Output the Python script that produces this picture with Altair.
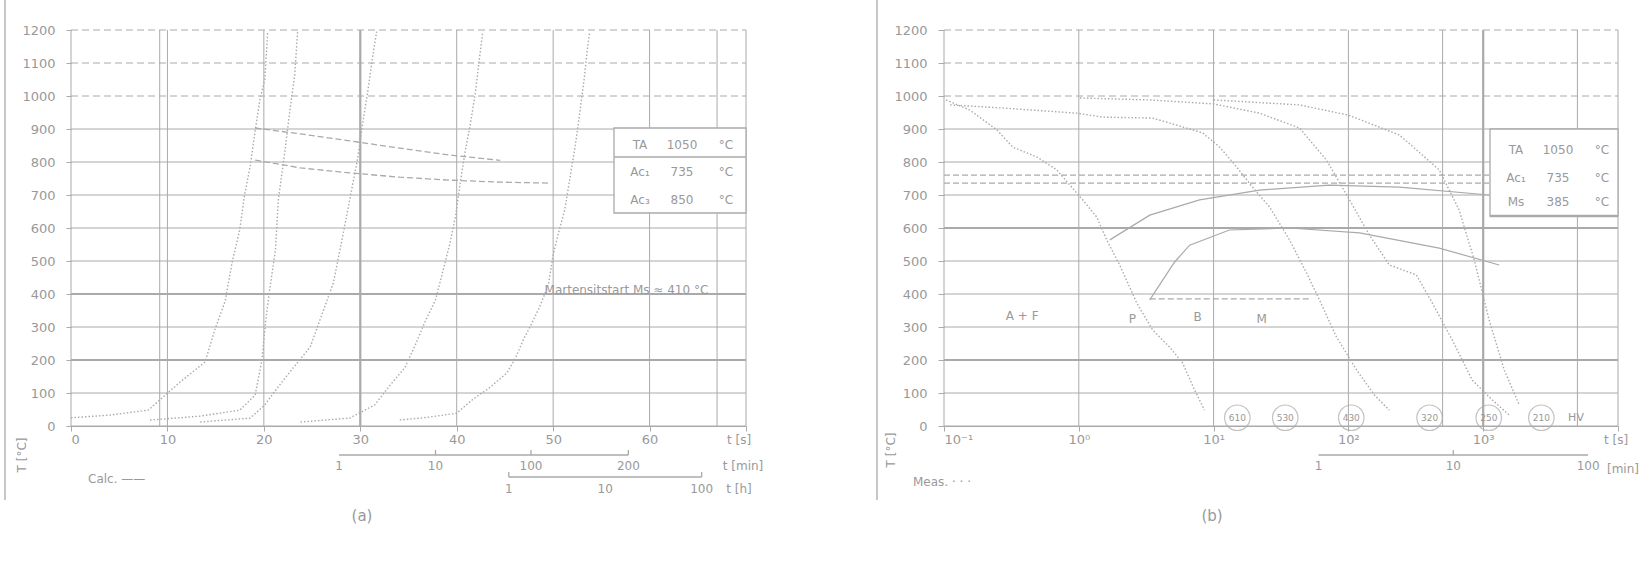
import altair as alt
import pandas as pd

GRAY = "#aaaaaa"
TXT = "#999999"
FONT = "DejaVu Sans"
W_A = 675          # plot width of panel (a)
B0, B1 = 873, 1547 # pixel range of panel (b) inside the shared plot area
H = 396

# ---------------- shared temperature axis ----------------
temps = list(range(0, 1300, 100))
temp_dashed = [1000, 1100, 1200]

# ---------------- panel (a): heating, linear time ----------------
a_ticks = [0, 10, 20, 30, 40, 50, 60, 70]
a_tick_labels = ["0", "10", "20", "30", "40", "50", "60", ""]
a_extra_v = [9.2, 67]
a_thick_v = [30]
a_thick_h = [200, 400]

a_c1_t = [0, 4, 8, 9.8, 11.3, 13.9, 14.9, 16, 16.7, 17.5, 18, 18.6, 19.1, 19.6, 20.1, 20.4]
a_c1_T = [25, 33, 48, 94, 133, 194, 290, 380, 495, 595, 700, 790, 895, 990, 1050, 1195]
a_c2_t = [8.2, 13.4, 17.5, 19.1, 19.8, 20.2, 20.6, 21.2, 21.5, 22.2, 22.7, 23.2, 23.5]
a_c2_T = [18, 30, 48, 94, 200, 321, 412, 533, 685, 836, 957, 1064, 1195]
a_c3_t = [13.4, 18.6, 20.1, 21.0, 22.7, 24.8, 26.0, 27.2, 28.1, 28.9, 29.7, 30.3, 30.8, 31.3, 31.7]
a_c3_T = [12, 24, 64, 100, 164, 239, 336, 433, 564, 685, 806, 927, 1018, 1124, 1195]
a_c4_t = [23.8, 28.9, 31.5, 33.1, 34.6, 35.7, 36.7, 37.8, 38.6, 39.3, 39.9, 40.4, 40.9, 41.4, 41.9, 42.4, 42.7]
a_c4_T = [12, 24, 64, 124, 176, 245, 315, 382, 473, 554, 639, 745, 836, 912, 1003, 1124, 1195]
a_c5_t = [34.1, 37.2, 40.0, 41.6, 43.5, 45.2, 46.1, 46.9, 47.8, 48.6, 49.5, 50.0, 50.5, 51.2, 51.8, 52.3, 52.8, 53.2, 53.6, 53.8]
a_c5_T = [18, 27, 39, 79, 118, 161, 206, 261, 312, 361, 427, 518, 579, 654, 761, 851, 957, 1048, 1154, 1195]

a_ac3_t = [19.1, 23.8, 28.9, 34.1, 39.3, 44.5]
a_ac3_T = [903, 885, 864, 842, 821, 805]
a_ac1_t = [19.1, 23.8, 28.9, 34.1, 39.3, 44.5, 49.7]
a_ac1_T = [806, 782, 767, 754, 745, 739, 736]

a_note = "Martensitstart Ms ≈ 410 °C"
a_note_t, a_note_T = 57.6, 412

a_sec1_pos = [27.8, 37.8, 47.7, 57.8]
a_sec1_lab = ["1", "10", "100", "200"]
a_sec2_pos = [45.4, 55.4, 65.4]
a_sec2_lab = ["1", "10", "100"]

a_leg_name = ["TA", "Ac₁", "Ac₃"]
a_leg_val = ["1050", "735", "850"]
a_leg_unit = ["°C", "°C", "°C"]

# ---------------- panel (b): cooling, log time ----------------
b_ticks = [0.1, 1, 10, 100, 1000, 10000]
b_tick_labels = ["10⁻¹", "10⁰", "10¹", "10²", "10³", ""]
b_extra_v = [500, 5000]
b_thick_v = [1000]
b_thick_h = [200, 600]

b_c1_t = [0.1035, 0.156, 0.247, 0.324, 0.489, 0.687, 1.07, 1.36, 1.61, 2.01, 2.69, 3.53, 4.72, 5.89, 7.23, 8.57]
b_c1_T = [988, 957, 897, 845, 815, 776, 685, 633, 564, 488, 373, 291, 239, 191, 109, 48]
b_c2_t = [0.111, 0.26, 0.966, 1.51, 3.53, 4.72, 8.29, 11.1, 14.8, 19.4, 26.0, 36.6, 48.9, 61.0, 81.5, 115, 156, 201]
b_c2_T = [973, 964, 948, 936, 933, 918, 888, 845, 785, 724, 664, 564, 464, 382, 270, 170, 94, 48]
b_c3_t = [1.02, 3.36, 10.0, 21.9, 43.4, 68.7, 102, 143, 201, 319, 419, 589, 829, 1167, 1560]
b_c3_T = [994, 988, 976, 948, 903, 806, 685, 579, 488, 458, 373, 261, 139, 79, 33]
b_c4_t = [10.0, 43.4, 100, 239, 472, 664, 858, 1107, 1432, 1849]
b_c4_T = [988, 973, 942, 882, 776, 654, 503, 321, 170, 64]

b_ac3_t = [0.1, 1107]
b_ac3_T = [760, 760]
b_ac1_t = [0.1, 1107]
b_ac1_T = [736, 736]
b_ms_t = [3.36, 51.4]
b_ms_T = [385, 385]

b_fs_t = [1.70, 3.36, 7.87, 21.9, 72.3, 239, 1107]
b_fs_T = [564, 639, 685, 715, 730, 724, 700]
b_bs_t = [3.36, 5.14, 6.64, 13.1, 36.6, 121, 472, 1315]
b_bs_T = [382, 497, 548, 594, 600, 585, 539, 488]

b_hv_t = [15, 34, 105, 400, 1100, 2700]
b_hv_lab = ["610", "530", "430", "320", "250", "210"]
b_hv_T = 25

b_ph_lab = ["A + F", "P", "B", "M"]
b_ph_t = [0.38, 2.5, 7.6, 22.7]
b_ph_T = [333, 325, 330, 325]

b_sec_pos = [60, 600, 6000]
b_sec_lab = ["1", "10", "100"]

b_leg_name = ["TA", "Ac₁", "Ms"]
b_leg_val = ["1050", "735", "385"]
b_leg_unit = ["°C", "°C", "°C"]

# ---------------- helpers ----------------
one = pd.DataFrame({"k": [0]})


def label_expr(vals, labs, tol):
    parts = [f"datum.value < {v + tol(v)} ? '{l}'" for v, l in zip(vals, labs)]
    return " : ".join(parts) + " : ''"


YS = alt.Scale(domain=[0, 1200], nice=False, zero=False)
XS_A = alt.Scale(domain=[0, 70], range=[0, W_A], nice=False, zero=False)
XS_B = alt.Scale(type="log", domain=[0.1, 10000], range=[B0, B1], nice=False)

AX_A = alt.Axis(values=a_ticks, labelExpr=label_expr(a_ticks, a_tick_labels, lambda v: 5),
                orient="bottom", grid=False, domain=True, tickSize=5, labelPadding=2,
                labelFontSize=13, title=None)
AX_B = alt.Axis(values=b_ticks, labelExpr=label_expr(b_ticks, b_tick_labels, lambda v: v),
                orient="bottom", grid=False, domain=True, tickSize=5, labelPadding=2,
                labelFontSize=13, title=None)
AY_A = alt.Axis(values=temps, orient="left", grid=False, domain=False, tickSize=5,
                labelPadding=11, labelFontSize=13, title=None, format="d")
AY_B = alt.Axis(values=temps, orient="left", offset=-B0, grid=False, domain=False, tickSize=6,
                labelPadding=11, labelFontSize=13, title=None, format="d")


def XA(f):
    return alt.X(f, type="quantitative", scale=XS_A, axis=AX_A)


def XB(f):
    return alt.X(f, type="quantitative", scale=XS_B, axis=AX_B)


def YA(f):
    return alt.Y(f, type="quantitative", scale=YS, axis=AY_A)


def YB(f):
    return alt.Y(f, type="quantitative", scale=YS, axis=AY_B)


def long(curves):
    rows = []
    for i, (ts, Ts) in enumerate(curves):
        for j, (t, T) in enumerate(zip(ts, Ts)):
            rows.append({"t": t, "T": T, "id": i, "o": j})
    return pd.DataFrame(rows)


def text(s, x, y, size=12, angle=0, align="center"):
    return alt.Chart(one).mark_text(text=s, font=FONT, fontSize=size, color=TXT,
                                    angle=angle, align=align, baseline="middle").encode(
        x=alt.value(x), y=alt.value(y))


def panel(Xf, Yf, x0, x1, ticks, extra_v, thick_v, thick_h, curves, dashed, bounds,
          sec_line, sec_ticks, sec_pos, sec_lab, sec2=None):
    solid_h = [t for t in temps if t not in temp_dashed]
    layers = []
    layers.append(alt.Chart(pd.DataFrame({"T": solid_h})).mark_rule(color=GRAY, strokeWidth=1)
                  .encode(y=Yf("T"), x=alt.value(x0), x2=alt.value(x1)))
    layers.append(alt.Chart(pd.DataFrame({"T": temp_dashed})).mark_rule(color=GRAY, strokeWidth=1, strokeDash=[7, 4])
                  .encode(y=Yf("T"), x=alt.value(x0), x2=alt.value(x1)))
    layers.append(alt.Chart(pd.DataFrame({"t": ticks + extra_v})).mark_rule(color=GRAY, strokeWidth=1)
                  .encode(x=Xf("t"), y=alt.value(0), y2=alt.value(H)))
    layers.append(alt.Chart(pd.DataFrame({"t": thick_v})).mark_rule(color=GRAY, strokeWidth=2.2)
                  .encode(x=Xf("t"), y=alt.value(0), y2=alt.value(H)))
    layers.append(alt.Chart(pd.DataFrame({"T": thick_h})).mark_rule(color=GRAY, strokeWidth=2.2)
                  .encode(y=Yf("T"), x=alt.value(x0), x2=alt.value(x1)))
    if bounds:
        layers.append(alt.Chart(long(bounds)).mark_line(color=GRAY, strokeWidth=1.2)
                      .encode(x=Xf("t"), y=Yf("T"), detail="id:N", order="o:Q"))
    layers.append(alt.Chart(long(curves)).mark_line(color=GRAY, strokeWidth=1.4, strokeDash=[1.5, 2])
                  .encode(x=Xf("t"), y=Yf("T"), detail="id:N", order="o:Q"))
    layers.append(alt.Chart(long(dashed)).mark_line(color=GRAY, strokeWidth=1.3, strokeDash=[6, 3])
                  .encode(x=Xf("t"), y=Yf("T"), detail="id:N", order="o:Q"))
    # secondary time axes below the main axis
    layers.append(alt.Chart(pd.DataFrame({"t": [sec_line[0]], "t2": [sec_line[1]]}))
                  .mark_rule(color=GRAY, strokeWidth=1.3)
                  .encode(x=Xf("t"), x2="t2:Q", y=alt.value(H + 29)))
    layers.append(alt.Chart(pd.DataFrame({"t": sec_ticks})).mark_rule(color=GRAY, strokeWidth=1.3)
                  .encode(x=Xf("t"), y=alt.value(H + 24), y2=alt.value(H + 29)))
    layers.append(alt.Chart(pd.DataFrame({"t": sec_pos, "lab": sec_lab}))
                  .mark_text(font=FONT, fontSize=12, color=TXT, baseline="middle")
                  .encode(x=Xf("t"), y=alt.value(H + 40), text="lab:N"))
    if sec2:
        line2, pos2, lab2 = sec2
        layers.append(alt.Chart(pd.DataFrame({"t": [line2[0]], "t2": [line2[1]]}))
                      .mark_rule(color=GRAY, strokeWidth=1.3)
                      .encode(x=Xf("t"), x2="t2:Q", y=alt.value(H + 51)))
        layers.append(alt.Chart(pd.DataFrame({"t": line2})).mark_rule(color=GRAY, strokeWidth=1.3)
                      .encode(x=Xf("t"), y=alt.value(H + 46), y2=alt.value(H + 51)))
        layers.append(alt.Chart(pd.DataFrame({"t": pos2, "lab": lab2}))
                      .mark_text(font=FONT, fontSize=12, color=TXT, baseline="middle")
                      .encode(x=Xf("t"), y=alt.value(H + 63), text="lab:N"))
    return layers


def legend(names, vals, units, bx0, bx1, by0, by1, rows_y, divider):
    cols = [bx0 + 26, bx0 + 68, bx0 + 112]
    layers = [alt.Chart(one).mark_rect(fill="white", stroke=GRAY, strokeWidth=1.3)
              .encode(x=alt.value(bx0), x2=alt.value(bx1), y=alt.value(by0), y2=alt.value(by1))]
    if divider is not None:
        layers.append(alt.Chart(one).mark_rule(color=GRAY, strokeWidth=1.3)
                      .encode(x=alt.value(bx0), x2=alt.value(bx1), y=alt.value(divider)))
    else:
        layers.append(alt.Chart(one).mark_rule(color=GRAY, strokeWidth=2.5)
                      .encode(x=alt.value(bx0), x2=alt.value(bx1), y=alt.value(by1)))
    for r, (n, v, u) in enumerate(zip(names, vals, units)):
        for c, s in enumerate([n, v, u]):
            layers.append(text(s, cols[c], rows_y[r], size=12))
    return layers


# ---------------- panel (a) ----------------
A_layers = panel(
    XA, YA, 0, W_A, a_ticks, a_extra_v, a_thick_v, a_thick_h,
    [(a_c1_t, a_c1_T), (a_c2_t, a_c2_T), (a_c3_t, a_c3_T), (a_c4_t, a_c4_T), (a_c5_t, a_c5_T)],
    [(a_ac3_t, a_ac3_T), (a_ac1_t, a_ac1_T)],
    None,
    (a_sec1_pos[0], a_sec1_pos[-1]), a_sec1_pos[1:], a_sec1_pos, a_sec1_lab,
    sec2=((a_sec2_pos[0], a_sec2_pos[-1]), a_sec2_pos, a_sec2_lab),
)
A_layers.append(alt.Chart(pd.DataFrame({"t": [a_note_t], "T": [a_note_T], "s": [a_note]}))
                .mark_text(font=FONT, fontSize=12, color=TXT, baseline="middle")
                .encode(x=XA("t"), y=YA("T"), text="s:N"))
A_layers += legend(a_leg_name, a_leg_val, a_leg_unit, 543, W_A, 98, 183, [115, 142, 170], 127)
A_layers += [
    text("t [s]", 668, H + 14, 12),
    text("t [min]", 672, H + 40, 12),
    text("t [h]", 668, H + 63, 12),
    text("T [°C]", -49, 425, 12, angle=270),
    text("Calc. ——", 17, 449, 12, align="left"),
    text("(a)", 291, 486, 15),
    alt.Chart(one).mark_rule(color=GRAY, strokeWidth=1.3)
    .encode(x=alt.value(-66), y=alt.value(-30), y2=alt.value(470)),
]
A = alt.layer(*A_layers)

# ---------------- panel (b) ----------------
B_layers = panel(
    XB, YB, B0, B1, b_ticks, b_extra_v, b_thick_v, b_thick_h,
    [(b_c1_t, b_c1_T), (b_c2_t, b_c2_T), (b_c3_t, b_c3_T), (b_c4_t, b_c4_T)],
    [(b_ac3_t, b_ac3_T), (b_ac1_t, b_ac1_T), (b_ms_t, b_ms_T)],
    [(b_fs_t, b_fs_T), (b_bs_t, b_bs_T)],
    (b_sec_pos[0], b_sec_pos[-1]), b_sec_pos[1:2], b_sec_pos, b_sec_lab,
)
B_layers.append(alt.Chart(pd.DataFrame({"t": b_hv_t, "T": [b_hv_T] * len(b_hv_t)}))
                .mark_point(shape="circle", filled=False, size=650, color=GRAY, strokeWidth=1.2)
                .encode(x=XB("t"), y=YB("T")))
B_layers.append(alt.Chart(pd.DataFrame({"t": b_hv_t, "T": [b_hv_T] * len(b_hv_t), "s": b_hv_lab}))
                .mark_text(font=FONT, fontSize=9, color=TXT, baseline="middle")
                .encode(x=XB("t"), y=YB("T"), text="s:N"))
B_layers.append(alt.Chart(pd.DataFrame({"t": b_ph_t, "T": b_ph_T, "s": b_ph_lab}))
                .mark_text(font=FONT, fontSize=12, color=TXT, baseline="middle")
                .encode(x=XB("t"), y=YB("T"), text="s:N"))
B_layers += legend(b_leg_name, b_leg_val, b_leg_unit, 1419, B1, 99, 186, [120, 148, 172], None)
B_layers += [
    text("HV", 1505, 388, 11),
    text("t [s]", 1545, H + 14, 12),
    text("[min]", 1552, H + 43, 12),
    text("T [°C]", 820, 420, 12, angle=270),
    text("Meas. · · ·", 842, 452, 12, align="left"),
    text("(b)", 1141, 486, 15),
    alt.Chart(one).mark_rule(color=GRAY, strokeWidth=1.3)
    .encode(x=alt.value(806), y=alt.value(-30), y2=alt.value(470)),
]
B = alt.layer(*B_layers)

chart = (
    alt.layer(A, B)
    .resolve_scale(x="independent", y="independent")
    .properties(
        width=B1, height=H,
        autosize=alt.AutoSizeParams(type="none"),
        padding={"left": 71, "top": 30, "right": 32, "bottom": 140},
        background="white",
    )
    .configure_view(stroke=None)
    .configure_axis(labelFont=FONT, labelColor=TXT, tickColor=GRAY, domainColor=GRAY)
)

chart.save("out.html", embed_options={"renderer": "svg", "actions": False})
